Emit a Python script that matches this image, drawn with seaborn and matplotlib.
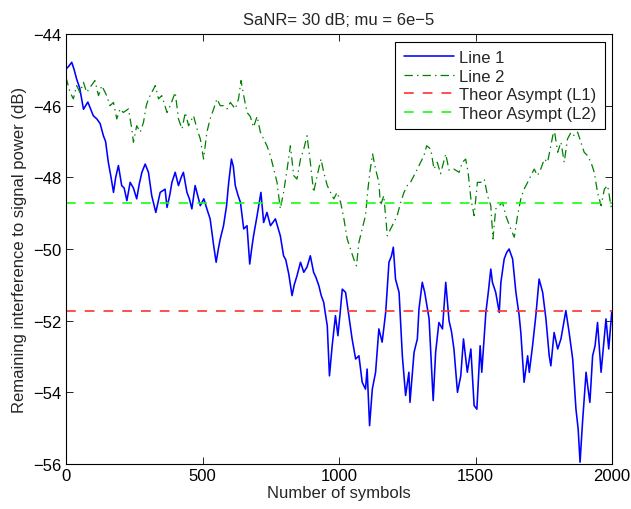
import numpy as np
import pandas as pd
import matplotlib
matplotlib.use("Agg")
import matplotlib.pyplot as plt
import seaborn as sns

# ---- data ----
line1_x = [0, 10, 21, 30, 39, 50, 64, 80, 100, 113, 125, 137, 145, 155, 165, 174, 182, 192, 204, 213,
           223, 235, 247, 259, 268, 278, 290, 302, 314, 329, 345, 363, 370, 380, 388, 400, 412, 422, 430, 443,
           452, 461, 473, 482, 492, 505, 516, 528, 541, 550, 558, 565, 577, 588, 596, 606, 613, 620, 630, 639,
           651, 663, 673, 680, 687, 700, 714, 724, 736, 749, 767, 785, 797, 805, 816, 828, 836, 846, 859, 871,
           883, 895, 907, 916, 926, 935, 944, 950, 957, 965, 975, 987, 996, 1004, 1012, 1024, 1036, 1048, 1061, 1073,
           1085, 1097, 1103, 1112, 1122, 1134, 1146, 1158, 1171, 1183, 1192, 1199, 1207, 1220, 1232, 1244, 1256, 1260, 1275, 1287,
           1293, 1305, 1314, 1330, 1345, 1354, 1366, 1379, 1391, 1403, 1412, 1421, 1434, 1446, 1456, 1470, 1483, 1495, 1505, 1517,
           1523, 1538, 1547, 1556, 1562, 1574, 1587, 1593, 1605, 1614, 1623, 1636, 1648, 1660, 1666, 1678, 1691, 1697, 1709, 1721,
           1733, 1746, 1758, 1770, 1776, 1788, 1801, 1813, 1831, 1843, 1856, 1868, 1876, 1883, 1892, 1905, 1911, 1919, 1929, 1938,
           1947, 1960, 1970, 1978, 1988, 1999]
line1_y = [-44.98, -44.90, -44.79, -45.00, -45.26, -45.50, -46.10, -45.90, -46.28, -46.37, -46.50, -46.84, -47.00, -47.58, -48.00, -48.42, -48.00, -47.67, -48.23, -48.30,
           -48.65, -48.14, -48.30, -48.60, -48.20, -47.86, -47.63, -47.86, -48.51, -48.98, -48.42, -48.33, -48.84, -48.50, -48.14, -47.86, -48.23, -48.00, -47.86, -48.42,
           -48.60, -48.88, -48.23, -48.50, -48.79, -48.60, -48.88, -49.16, -49.91, -50.37, -50.00, -49.72, -49.35, -48.80, -48.14, -47.49, -47.70, -48.23, -48.50, -48.70,
           -49.44, -49.35, -50.42, -50.00, -49.63, -49.07, -48.42, -49.26, -48.98, -49.35, -49.16, -49.63, -50.19, -50.30, -50.70, -51.30, -51.00, -50.75, -50.37, -50.65,
           -50.50, -50.19, -50.65, -50.80, -51.02, -51.30, -51.49, -51.80, -52.14, -53.54, -52.70, -51.86, -52.42, -51.80, -51.12, -51.21, -51.86, -52.51, -53.07, -52.98,
           -53.72, -53.91, -53.35, -54.93, -53.91, -53.44, -52.23, -52.60, -51.77, -50.37, -50.20, -49.95, -50.84, -51.21, -52.98, -54.09, -53.44, -54.28, -52.88, -52.51,
           -51.67, -50.93, -51.21, -51.95, -54.23, -52.88, -52.05, -52.23, -50.93, -52.00, -52.30, -52.79, -54.00, -53.54, -52.51, -53.44, -52.79, -54.37, -54.47, -52.70,
           -53.44, -51.77, -51.20, -50.56, -50.93, -51.21, -51.77, -50.93, -50.28, -50.10, -50.00, -50.28, -51.21, -51.86, -52.33, -53.72, -52.98, -53.44, -52.70, -51.86,
           -50.84, -51.21, -51.95, -52.98, -53.26, -52.33, -52.79, -52.51, -51.72, -52.33, -53.07, -54.47, -55.02, -55.95, -54.84, -53.44, -53.82, -54.28, -52.98, -52.70,
           -52.05, -53.44, -52.60, -51.95, -52.79, -51.77]

line2_x = [0, 15, 27, 39, 51, 64, 76, 88, 106, 119, 131, 149, 161, 174, 186, 198, 210, 229, 241, 247,
           259, 272, 284, 294, 302, 314, 327, 339, 351, 370, 382, 400, 412, 425, 437, 449, 467, 480, 492, 504,
           516, 528, 541, 553, 565, 577, 590, 602, 620, 632, 641, 651, 663, 675, 687, 700, 712, 724, 736, 749,
           761, 773, 785, 797, 810, 822, 834, 846, 859, 871, 883, 895, 907, 920, 934, 944, 957, 969, 981, 993,
           1006, 1018, 1030, 1042, 1054, 1064, 1073, 1085, 1097, 1106, 1113, 1123, 1134, 1146, 1152, 1164, 1177, 1189, 1201, 1213,
           1226, 1238, 1250, 1262, 1275, 1287, 1299, 1311, 1321, 1336, 1348, 1360, 1372, 1391, 1403, 1421, 1440, 1452, 1464, 1473,
           1483, 1495, 1507, 1519, 1532, 1544, 1556, 1564, 1574, 1587, 1599, 1611, 1629, 1642, 1654, 1666, 1678, 1691, 1703, 1715,
           1727, 1739, 1752, 1764, 1776, 1788, 1801, 1813, 1825, 1837, 1850, 1862, 1874, 1886, 1898, 1911, 1923, 1935, 1947, 1960,
           1972, 1984, 1996, 2000]
line2_y = [-45.21, -45.63, -45.81, -45.44, -45.63, -45.35, -45.63, -45.49, -45.30, -45.72, -45.44, -45.72, -46.00, -45.91, -46.37, -46.09, -46.19, -46.09, -46.65, -47.02,
           -46.56, -46.74, -46.46, -46.00, -45.81, -45.63, -45.44, -45.81, -45.72, -46.19, -46.00, -45.63, -46.37, -46.65, -46.19, -46.56, -46.28, -46.65, -46.93, -47.49,
           -46.74, -46.37, -46.09, -45.81, -46.00, -46.00, -46.09, -45.91, -46.09, -45.81, -45.30, -45.72, -46.19, -46.30, -46.60, -46.30, -46.74, -46.93, -47.12, -47.40,
           -47.77, -48.14, -48.88, -48.42, -47.77, -47.12, -47.95, -48.05, -47.49, -47.21, -46.84, -47.58, -48.42, -47.95, -47.49, -47.86, -48.23, -48.42, -48.60, -48.42,
           -48.70, -49.16, -49.72, -50.00, -50.28, -50.47, -49.81, -49.44, -49.07, -48.33, -47.86, -47.35, -47.77, -48.14, -48.79, -48.51, -49.63, -49.44, -49.26, -49.07,
           -48.70, -48.42, -48.23, -48.14, -47.95, -47.77, -47.58, -47.40, -47.12, -47.21, -47.77, -47.58, -47.90, -47.35, -47.80, -47.77, -47.86, -47.58, -47.49, -47.86,
           -48.60, -49.07, -48.14, -48.14, -48.05, -48.51, -48.79, -49.72, -48.88, -48.79, -48.70, -49.07, -49.44, -49.67, -49.07, -48.60, -48.33, -48.14, -47.95, -47.77,
           -47.95, -47.77, -47.49, -47.58, -47.12, -46.65, -47.30, -47.02, -47.58, -46.93, -46.74, -46.84, -46.74, -47.02, -47.30, -47.40, -47.58, -47.86, -48.42, -48.79,
           -48.33, -48.23, -48.79, -48.90]

asym_L1 = -51.72
asym_L2 = -48.72
labels = ["Line 1", "Line 2", "Theor Asympt (L1)", "Theor Asympt (L2)"]
title = "SaNR= 30 dB; mu = 6e\u22125"
xlabel = "Number of symbols"
ylabel = "Remaining interference to signal power (dB)"
xticks = [0, 500, 1000, 1500, 2000]
yticks = [-56, -54, -52, -50, -48, -46, -44]

# ---- plotting ----
sns.set_style("ticks")
plt.rcParams["font.family"] = ["Liberation Sans", "DejaVu Sans"]
plt.rcParams["axes.unicode_minus"] = True
plt.rcParams["lines.scale_dashes"] = False

FS = 12
fig = plt.figure(figsize=(6.31, 5.10), dpi=100)
ax = fig.add_axes([66 / 631, 45 / 510, 546 / 631, 430 / 510])

df1 = pd.DataFrame({"x": line1_x, "y": line1_y})
df2 = pd.DataFrame({"x": line2_x, "y": line2_y})
sns.lineplot(data=df1, x="x", y="y", ax=ax, color="#0000ff", lw=1.15,
             estimator=None, sort=False, label=labels[0])
sns.lineplot(data=df2, x="x", y="y", ax=ax, color="#008000", lw=0.9,
             estimator=None, sort=False, label=labels[1], linestyle=(0, (6, 3, 1, 3)))
dfa = pd.DataFrame({"x": [0, 2000], "y1": [asym_L1, asym_L1], "y2": [asym_L2, asym_L2]})
sns.lineplot(data=dfa, x="x", y="y1", ax=ax, color="#ff3030", lw=1.2,
             estimator=None, label=labels[2], linestyle=(0, (7, 6.5)))
sns.lineplot(data=dfa, x="x", y="y2", ax=ax, color="#10ff10", lw=1.2,
             estimator=None, label=labels[3], linestyle=(0, (7, 6.5)))

ax.set_xlim(0, 2000)
ax.set_ylim(-56, -44)
ax.set_xticks(xticks)
ax.set_yticks(yticks)
ax.set_xticklabels([str(v) for v in xticks])
ax.set_yticklabels([("\u2212" + str(-v)) if v < 0 else str(v) for v in yticks])
ax.tick_params(direction="in", length=5, width=0.6, labelsize=FS, top=True, right=True,
               colors="black", pad=3)
for s in ax.spines.values():
    s.set_linewidth(0.8)
    s.set_color("black")
ax.set_xlabel(xlabel, fontsize=FS, labelpad=1)
ax.set_ylabel(ylabel, fontsize=FS, labelpad=5)
ax.set_title(title, fontsize=FS, pad=7)

leg = ax.legend(loc="upper right", fontsize=FS, handlelength=3.0, handletextpad=0.3,
                labelspacing=0.22, borderpad=0.5, borderaxespad=0.45, fancybox=False,
                framealpha=1, edgecolor="black")
leg.get_frame().set_linewidth(0.8)

fig.savefig("out.png", dpi=100)
